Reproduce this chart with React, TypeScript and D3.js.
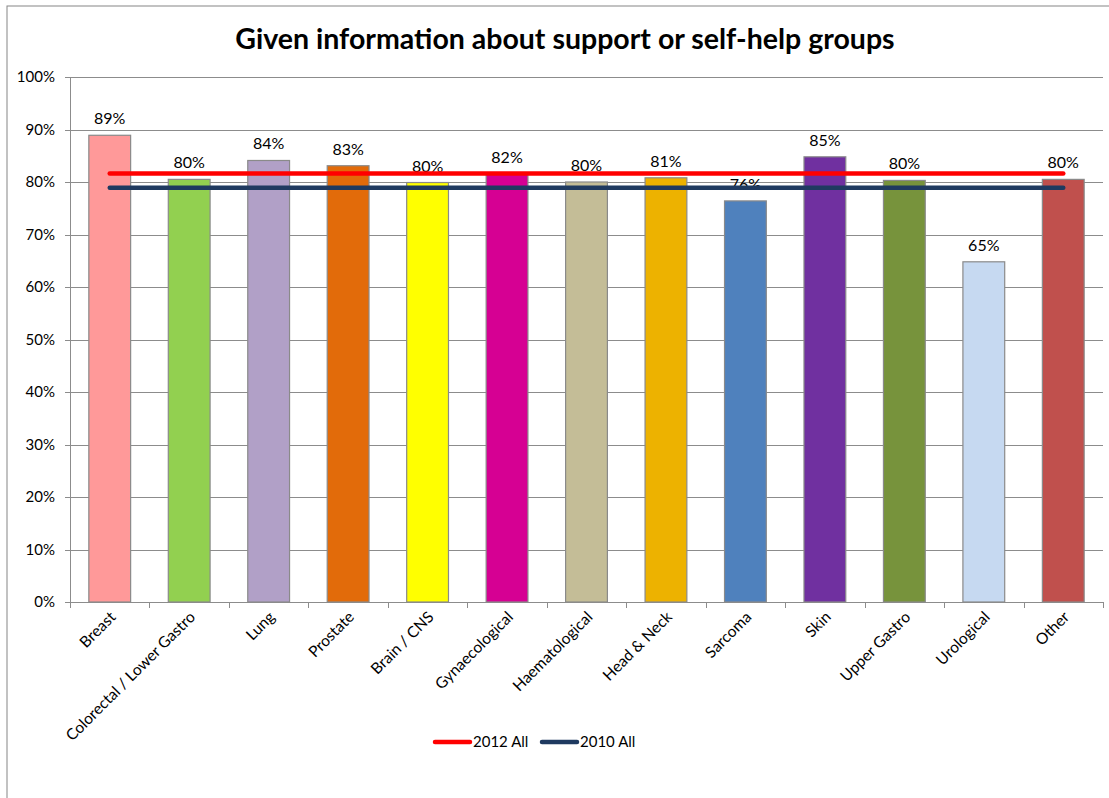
import React from "react";
import * as d3 from "d3";

const categories = ["Breast", "Colorectal / Lower Gastro", "Lung", "Prostate", "Brain / CNS", "Gynaecological", "Haematological", "Head & Neck", "Sarcoma", "Skin", "Upper Gastro", "Urological", "Other"];
const values = [88.9, 80.5, 84.1, 83.1, 79.9, 81.6, 80.0, 80.8, 76.4, 84.8, 80.3, 64.8, 80.5];
const labels = ["89%", "80%", "84%", "83%", "80%", "82%", "80%", "81%", "76%", "85%", "80%", "65%", "80%"];
const barColors = ["#FF9999", "#92D050", "#B1A0C7", "#E26B0A", "#FFFF00", "#D60093", "#C4BD97", "#EDB200", "#4F81BD", "#7030A0", "#77933C", "#C6D9F1", "#C0504D"];
const lineSeries = [
  { name: "2012 All", value: 81.6, color: "#FF0000" },
  { name: "2010 All", value: 78.9, color: "#1F3A60" },
];
const yTicks = [0, 10, 20, 30, 40, 50, 60, 70, 80, 90, 100];
const title = "Given information about support or self-help groups";

const W = 1109, H = 798;
const left = 70, right = 1103, top = 77, bottom = 602;
const font = "Lato, 'Open Sans', sans-serif";

export default function App() {
  const x = d3.scaleBand<string>().domain(categories).range([left, right]).paddingInner(0.474).paddingOuter(0.237);
  const xb = d3.scaleBand<string>().domain(categories).range([left, right]);
  const y = d3.scaleLinear().domain([0, 100]).range([bottom, top]);
  const first = xb(categories[0])! + xb.bandwidth() / 2;
  const last = xb(categories[categories.length - 1])! + xb.bandwidth() / 2;
  return (
    <svg width={W} height={H} style={{ position: "absolute", left: 0, top: 0, fontFamily: font }}>
      <rect x={7} y={6} width={1130} height={820} fill="white" stroke="#868686" strokeWidth={1} />
      <text x={565} y={49} textAnchor="middle" fontSize={28.5} fontWeight="bold" fill="#000">{title}</text>
      {yTicks.map((t) => (
        <g key={t}>
          <line x1={left - 5} x2={right} y1={Math.round(y(t)) + 0.5} y2={Math.round(y(t)) + 0.5} stroke="#8C8C8C" strokeWidth={1} />
          <text x={55} y={y(t) + 5} textAnchor="end" fontSize={15} fill="#000">{t}%</text>
        </g>
      ))}
      <line x1={left + 0.5} x2={left + 0.5} y1={top} y2={bottom} stroke="#8C8C8C" />
      {d3.range(categories.length + 1).map((i) => {
        const xx = Math.round(left + i * xb.bandwidth()) + 0.5;
        return <line key={i} x1={xx} x2={xx} y1={bottom} y2={bottom + 6} stroke="#8C8C8C" />;
      })}
      {categories.map((c, i) => (
        <g key={c}>
          <rect x={x(c)!} y={y(values[i])} width={x.bandwidth()} height={bottom - y(values[i])} fill={barColors[i]} stroke="#8A8A8A" strokeWidth={1.2} />
          <text x={x(c)! + x.bandwidth() / 2} y={y(values[i]) - 11} textAnchor="middle" fontSize={16} fill="#000">{labels[i]}</text>
          <text transform={`translate(${xb(c)! + xb.bandwidth() / 2 + 7},${bottom + 16}) rotate(-45)`} textAnchor="end" fontSize={15.5} fill="#000">{c}</text>
        </g>
      ))}
      {lineSeries.map((s) => (
        <line key={s.name} x1={first} x2={last} y1={y(s.value)} y2={y(s.value)} stroke={s.color} strokeWidth={4.5} strokeLinecap="round" />
      ))}
      {lineSeries.map((s, i) => (
        <g key={s.name} transform={`translate(${435 + i * 107},742)`}>
          <line x1={0} x2={35} y1={0} y2={0} stroke={s.color} strokeWidth={4.5} strokeLinecap="round" />
          <text x={38} y={5} fontSize={15} fill="#000">{s.name}</text>
        </g>
      ))}
    </svg>
  );
}
